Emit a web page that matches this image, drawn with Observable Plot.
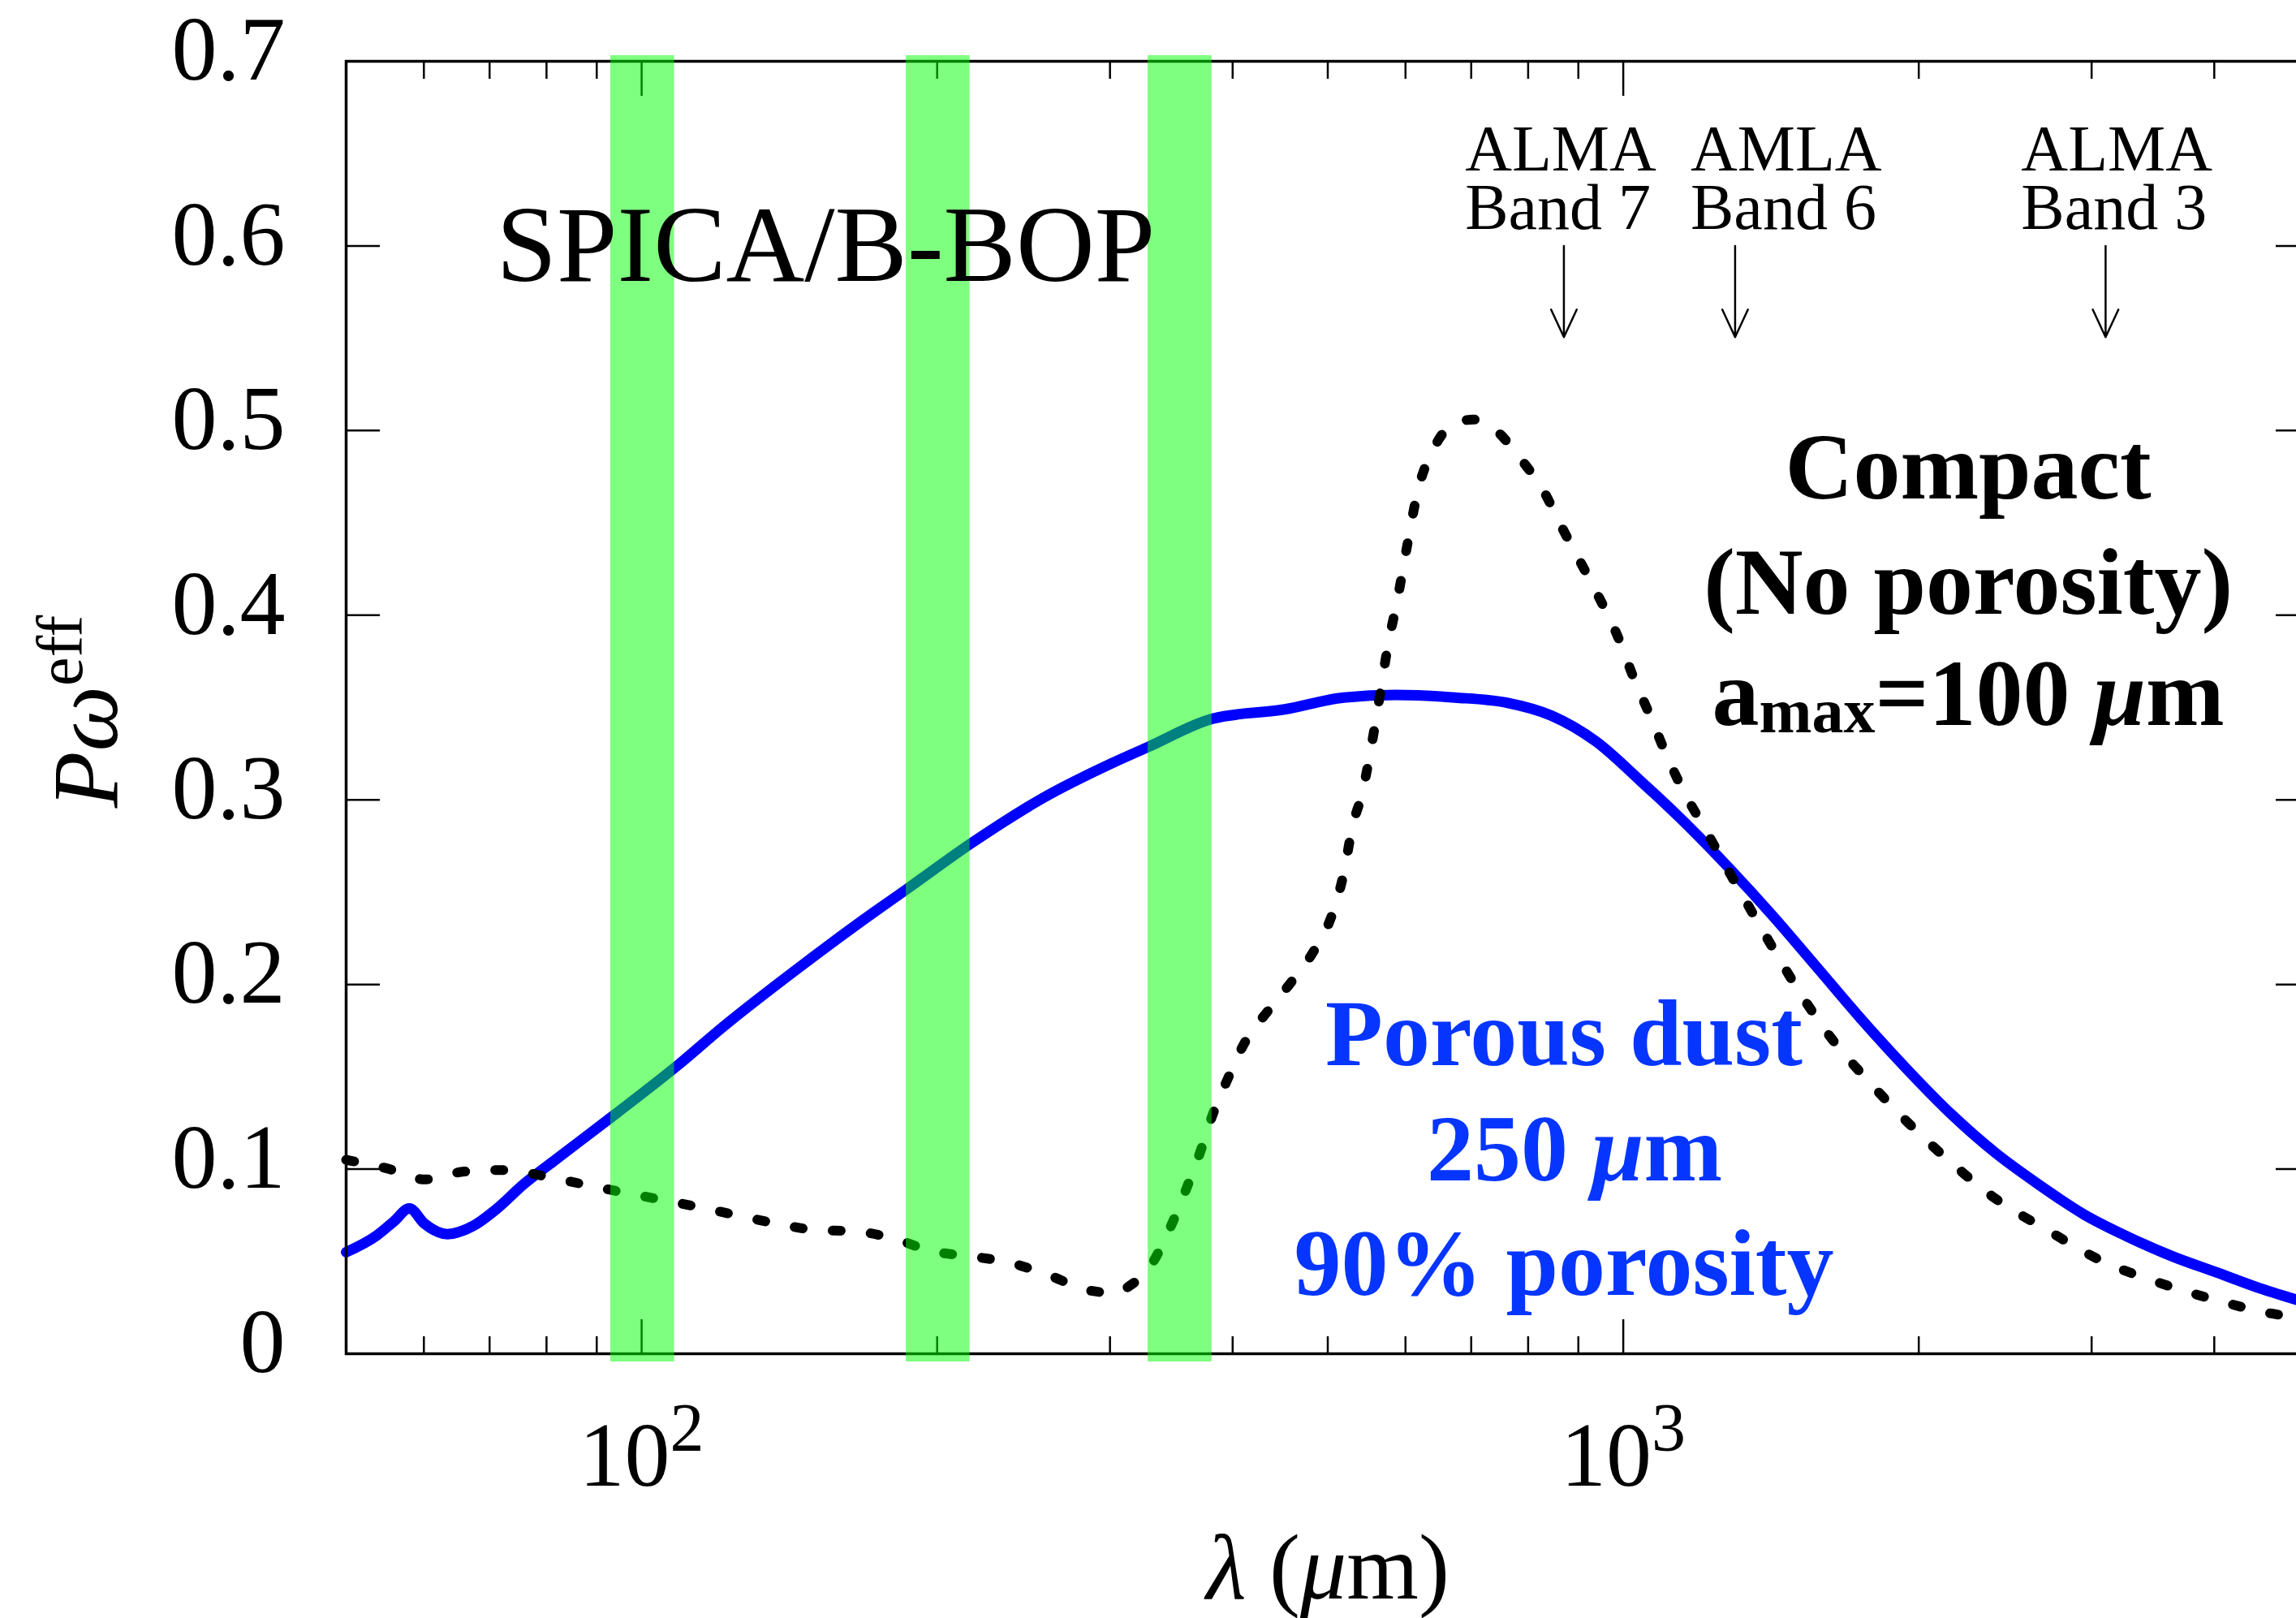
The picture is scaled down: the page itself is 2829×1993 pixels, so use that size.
<!DOCTYPE html>
<html><head><meta charset="utf-8">
<script src="https://cdn.jsdelivr.net/npm/d3@7"></script>
<script src="https://cdn.jsdelivr.net/npm/@observablehq/plot@0.6"></script>
<style>
html,body{margin:0;padding:0;background:#fff;overflow:hidden;}
#wrap{width:2829px;height:1993px;overflow:hidden;background:#fff;}
</style></head><body><div id="wrap"></div>
<script>
// ---- data ----
const porousLam = [50, 53.7, 55.9, 58, 60.1, 63.4, 67.3, 71, 75.9, 81.2, 93.4, 109, 121, 145, 172, 186, 217, 256, 301, 328, 382, 452, 519, 587, 674, 761, 845, 938, 1040, 1155, 1281, 1422, 1578, 1751, 1943, 2158, 2394, 2657, 2948, 3271, 3632, 4030, 4472, 4861, 5000];
const porousP   = [0.055, 0.064, 0.0716, 0.0787, 0.0704, 0.0648, 0.0691, 0.078, 0.092, 0.104, 0.1286, 0.1565, 0.177, 0.2096, 0.2387, 0.2514, 0.2767, 0.3008, 0.3197, 0.3286, 0.344, 0.349, 0.3554, 0.3568, 0.3554, 0.3526, 0.3456, 0.3316, 0.3105, 0.2877, 0.2632, 0.2368, 0.2088, 0.1807, 0.1544, 0.1298, 0.1088, 0.0912, 0.0754, 0.0632, 0.0526, 0.0439, 0.0351, 0.0291, 0.027];

const compactLam = [50, 55.1, 60.1, 66, 72.5, 79.6, 86.8, 95.3, 104.6, 114.9, 125.3, 137.6, 150, 165, 181, 197, 217, 236, 260, 285, 305, 313, 330, 344, 358, 370, 382, 394, 411, 435, 460, 485, 506, 519, 530, 542, 552, 562, 576, 589, 602, 618, 640, 674, 704, 742, 788, 830, 867, 906, 946, 988, 1023, 1068, 1105, 1155, 1206, 1260, 1350, 1434, 1524, 1634, 1782, 1943, 2158, 2394, 2703, 3052, 3508, 3961, 4551, 5000];
const compactP   = [0.105, 0.1003, 0.0944, 0.0987, 0.0995, 0.0962, 0.092, 0.0876, 0.0835, 0.0792, 0.0749, 0.0704, 0.0671, 0.0663, 0.0623, 0.0557, 0.0527, 0.0496, 0.0425, 0.0344, 0.0329, 0.0362, 0.0476, 0.066, 0.088, 0.108, 0.130, 0.147, 0.168, 0.186, 0.202, 0.219, 0.239, 0.26, 0.286, 0.3035, 0.3246, 0.349, 0.384, 0.409, 0.437, 0.468, 0.4895, 0.504, 0.506, 0.500, 0.484, 0.467, 0.447, 0.428, 0.409, 0.388, 0.367, 0.344, 0.325, 0.3035, 0.286, 0.268, 0.240, 0.216, 0.193, 0.170, 0.147, 0.126, 0.1035, 0.084, 0.067, 0.051, 0.0386, 0.030, 0.022, 0.019];

// SPICA/B-BOP bands (µm)
const bandLo = [93, 186, 328];
const bandHi = [108, 216, 381];

// ALMA bands (µm)
const almaLam = [870, 1300, 3100];
const almaText = ["ALMA\nBand 7", "AMLA\nBand 6", "ALMA\nBand 3"];
const almaTextLam = [690, 1171, 2543];

// ticks
const yTicks = [0, 0.1, 0.2, 0.3, 0.4, 0.5, 0.6, 0.7];
const yTickLabels = ["0", "0.1", "0.2", "0.3", "0.4", "0.5", "0.6", "0.7"];
const xMajor = [100, 1000];
const xMajorLabels = ["10^2", "10^3"];
const xMinor = [60, 70, 80, 90, 200, 300, 400, 500, 600, 700, 800, 900, 2000, 3000, 4000];

// ---- tables built from arrays ----
const porous = porousLam.map((l, i) => ({lam: l, p: porousP[i]}));
const compact = compactLam.map((l, i) => ({lam: l, p: compactP[i]}));
const bands = bandLo.map((lo, i) => ({lo, hi: bandHi[i]}));
const alma = almaLam.map((l, i) => ({lam: l, text: almaText[i], tlam: almaTextLam[i]}));

const fam = "'Liberation Serif', 'Times New Roman', serif";
const blueText = "#0535ff";

const plot = Plot.plot({
  width: 2845, height: 1993,
  marginLeft: 426, marginRight: 0, marginTop: 75, marginBottom: 326,
  x: {type: "log", domain: [50, 5000]},
  y: {domain: [0, 0.7]},
  style: {fontFamily: fam, background: "white", maxWidth: "none", overflow: "hidden"},
  marks: [
    Plot.line(porous, {x: "lam", y: "p", stroke: "#0000ff", strokeWidth: 13, curve: "monotone-x"}),
    Plot.line(compact, {x: "lam", y: "p", stroke: "#000", strokeWidth: 12, strokeDasharray: "10,37", strokeLinecap: "round", curve: "monotone-x"}),
    Plot.frame({stroke: "#000", strokeWidth: 3.5}),
    // inward ticks
    Plot.axisY(yTicks, {anchor: "left", tickSize: -42, tickFormat: () => "", label: null, strokeWidth: 2.5}),
    Plot.axisY(yTicks, {anchor: "right", tickSize: -42, tickFormat: () => "", label: null, strokeWidth: 2.5}),
    Plot.axisX(xMajor, {anchor: "bottom", tickSize: -42, tickFormat: () => "", label: null, strokeWidth: 2.5}),
    Plot.axisX(xMajor, {anchor: "top", tickSize: -42, tickFormat: () => "", label: null, strokeWidth: 2.5}),
    Plot.axisX(xMinor, {anchor: "bottom", tickSize: -21, tickFormat: () => "", label: null, strokeWidth: 2.5}),
    Plot.axisX(xMinor, {anchor: "top", tickSize: -21, tickFormat: () => "", label: null, strokeWidth: 2.5}),
    // tick labels
    Plot.axisY(yTicks, {anchor: "left", tickSize: 0, tickPadding: 75, dy: -13, fontSize: 112, label: null,
      tickFormat: d => yTickLabels[yTicks.indexOf(d)]}),
    Plot.axisX(xMajor, {anchor: "bottom", tickSize: 0, tickPadding: 83, fontSize: 112, label: null,
      tickFormat: d => xMajorLabels[xMajor.indexOf(d)]}),
    // SPICA bands
    Plot.rect(bands, {x1: "lo", x2: "hi", y1: 0, y2: 0.7, fill: "#00ff00", fillOpacity: 0.5, insetTop: -7, insetBottom: -10}),
    // annotations
    Plot.text(["SPICA/B-BOP"], {text: d => d, x: 154, y: 0.581, fontSize: 134, lineAnchor: "bottom", fill: "#000"}),
    Plot.text(alma, {x: "tlam", y: 0.609, text: "text", textAnchor: "start", lineAnchor: "bottom", lineHeight: 0.9, fontSize: 80, fill: "#000"}),
    Plot.arrow(alma, {x1: "lam", x2: "lam", y1: 0.600, y2: 0.5506, stroke: "#000", strokeWidth: 2.5, headLength: 28, headAngle: 50}),
    Plot.text(["Compact\n(No porosity)"], {text: d => d, x: 2246, y: 0.401, fontSize: 116, fontWeight: "bold", lineAnchor: "bottom", lineHeight: 1.224, fill: "#000"}),
    Plot.text(["amax=100 μm"], {text: d => d, x: 2246, y: 0.3404, fontSize: 116, fontWeight: "bold", lineAnchor: "bottom", fill: "#000"}),
    Plot.text(["Porous dust"], {text: d => d, x: 870, y: 0.1561, fontSize: 116, fontWeight: "bold", lineAnchor: "bottom", fill: blueText}),
    Plot.text(["250 μm"], {text: d => d, x: 892, y: 0.0937, fontSize: 116, fontWeight: "bold", lineAnchor: "bottom", fill: blueText}),
    Plot.text(["90% porosity"], {text: d => d, x: 870, y: 0.0317, fontSize: 116, fontWeight: "bold", lineAnchor: "bottom", fill: blueText}),
    // axis titles
    Plot.text(["Pωeff"], {text: d => d, frameAnchor: "left", dx: -283, dy: 5, rotate: -90, textAnchor: "middle", lineAnchor: "bottom", fontSize: 114, fill: "#000"}),
    Plot.text(["λ (μm)"], {text: d => d, frameAnchor: "bottom", dy: 301, textAnchor: "middle", lineAnchor: "bottom", fontSize: 114, fill: "#000"})
  ]
});

// ---- rich text (superscripts, italics) ----
const rich = {
  "10^2": [{t: "10"}, {t: "2", size: 84, dy: -43}],
  "10^3": [{t: "10"}, {t: "3", size: 84, dy: -43}],
  "Pωeff": [{t: "P", style: "italic"}, {t: "ω", style: "italic"}, {t: "eff", size: 80, dy: -43}],
  "λ (μm)": [{t: "λ", style: "italic"}, {t: " ("}, {t: "μ", style: "italic"}, {t: "m"}, {t: ")"}],
  "amax=100 μm": [{t: "a"}, {t: "max", size: 78, dy: 9}, {t: "=100 ", dy: -9}, {t: "μ", style: "italic"}, {t: "m"}],
  "250 μm": [{t: "250 "}, {t: "μ", style: "italic"}, {t: "m"}]
};
d3.select(plot).selectAll("text").each(function () {
  const key = this.textContent;
  const parts = rich[key];
  if (!parts) return;
  while (this.firstChild) this.removeChild(this.firstChild);
  for (const p of parts) {
    const ts = document.createElementNS("http://www.w3.org/2000/svg", "tspan");
    ts.textContent = p.t;
    if (p.size) ts.setAttribute("font-size", p.size);
    if (p.style) ts.setAttribute("font-style", p.style);
    if (p.weight) ts.setAttribute("font-weight", p.weight);
    if (p.dy) ts.setAttribute("dy", p.dy);
    this.appendChild(ts);
  }
});

plot.style.maxWidth = "none";
document.getElementById("wrap").appendChild(plot);
</script>
</body></html>
